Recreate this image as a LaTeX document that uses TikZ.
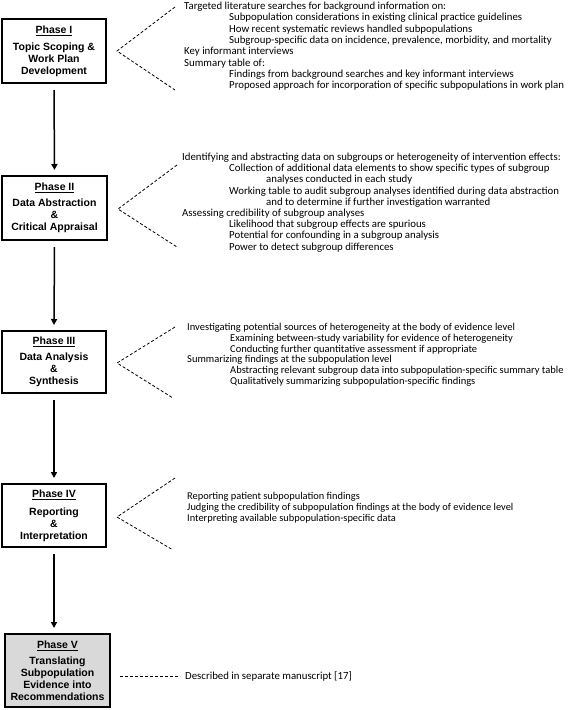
\documentclass[tikz,border=0pt]{standalone}
\usepackage{fontspec}
\setmainfont{Carlito}
\newfontfamily\boxfont{Liberation Sans}
\usetikzlibrary{arrows.meta}
\definecolor{boxgray}{HTML}{D9D9D9}
\begin{document}
\begin{tikzpicture}[x=1pt,y=-1pt,
  txt/.style={anchor=base west,inner sep=0pt,font=\fontsize{10.8}{11.3}\selectfont},
  txtm/.style={txt,font=\fontsize{10.5}{11.3}\selectfont},
  txts/.style={txt,font=\fontsize{10.4}{11.3}\selectfont},
  phase/.style={draw,line width=2pt,inner sep=0pt,align=center,font=\boxfont\bfseries\fontsize{10.5}{12}\selectfont},
  flow/.style={line width=1.5pt,-{Triangle[length=6pt,width=6pt]},shorten <=6pt,shorten >=5pt},
  brace/.style={dash pattern=on 3pt off 2pt,line width=0.8pt}]
\useasboundingbox (0,0) rectangle (568,710);

% phase boxes
\node[phase,minimum width=104pt,minimum height=64pt] (p1) at (54,51)
  {\underline{Phase I}\\[5pt]Topic Scoping \&\\Work Plan\\Development};
\node[phase,minimum width=105pt,minimum height=64pt] (p2) at (54.5,208)
  {\underline{Phase II}\\[4pt]Data Abstraction\\\&\\Critical Appraisal};
\node[phase,minimum width=104pt,minimum height=62pt] (p3) at (54,362)
  {\underline{Phase III}\\[4pt]Data Analysis\\\&\\Synthesis};
\node[phase,minimum width=104pt,minimum height=63pt] (p4) at (54,515.5)
  {\underline{Phase IV}\\[6pt]Reporting\\\&\\Interpretation};
\node[phase,fill=boxgray,minimum width=105pt,minimum height=73pt] (p5) at (57.5,670.5)
  {\underline{Phase V}\\[4pt]Translating\\Subpopulation\\Evidence into\\Recommendations};

% arrows
\draw[flow] (p1.south) -- (p2.north);
\draw[flow] (p2.south) -- (p3.north);
\draw[flow] (p3.south) -- (p4.north);
\draw[flow] (p4.south) -- (p4.south |- p5.north);

% dashed brackets
\coordinate (b1t) at (175,7);   \coordinate (b1a) at (117,51);  \coordinate (b1b) at (175,90);
\coordinate (b2t) at (177,165); \coordinate (b2a) at (118,209); \coordinate (b2b) at (177,247);
\coordinate (b3t) at (175,327); \coordinate (b3a) at (117,363); \coordinate (b3b) at (173,398);
\coordinate (b4t) at (175,478); \coordinate (b4a) at (117,517); \coordinate (b4b) at (173,550);
\coordinate (b5a) at (120,676); \coordinate (b5b) at (180,676);
\draw[brace] (b1t) -- (b1a) -- (b1b);
\draw[brace] (b2t) -- (b2a) -- (b2b);
\draw[brace] (b3t) -- (b3a) -- (b3b);
\draw[brace] (b4t) -- (b4a) -- (b4b);
\draw[brace] (b5a) -- (b5b);

% Phase I text
\node[txt] (t1a) at (184,9.5) {Targeted literature searches for background information on:};
\node[txt] (t1b) at (229,20.8) {Subpopulation considerations in existing clinical practice guidelines};
\node[txt] (t1c) at (229,32.1) {How recent systematic reviews handled subpopulations};
\node[txt] (t1d) at (229,43.4) {Subgroup-specific data on incidence, prevalence, morbidity, and mortality};
\node[txt] (t1e) at (184,54.7) {Key informant interviews};
\node[txt] (t1f) at (184,66) {Summary table of:};
\node[txt] (t1g) at (229,77.3) {Findings from background searches and key informant interviews};
\node[txt] (t1h) at (229,88.6) {Proposed approach for incorporation of specific subpopulations in work plan};

% Phase II text
\node[txt] (t2a) at (182,160.5) {Identifying and abstracting data on subgroups or heterogeneity of intervention effects:};
\node[txt] (t2b) at (229,171.7) {Collection of additional data elements to show specific types of subgroup};
\node[txt] (t2c) at (266,182.9) {analyses conducted in each study};
\node[txt] (t2d) at (229,194.1) {Working table to audit subgroup analyses identified during data abstraction};
\node[txt] (t2e) at (266,205.3) {and to determine if further investigation warranted};
\node[txt] (t2f) at (182,216.5) {Assessing credibility of subgroup analyses};
\node[txt] (t2g) at (229,227.7) {Likelihood that subgroup effects are spurious};
\node[txt] (t2h) at (229,238.9) {Potential for confounding in a subgroup analysis};
\node[txt] (t2i) at (229,250.1) {Power to detect subgroup differences};

% Phase III text
\node[txtm] (t3a) at (187,330.5) {Investigating potential sources of heterogeneity at the body of evidence level};
\node[txtm] (t3b) at (230,341.3) {Examining between-study variability for evidence of heterogeneity};
\node[txtm] (t3c) at (230,352) {Conducting further quantitative assessment if appropriate};
\node[txtm] (t3d) at (187,362.6) {Summarizing findings at the subpopulation level};
\node[txtm] (t3e) at (230,373.3) {Abstracting relevant subgroup data into subpopulation-specific summary table};
\node[txtm] (t3f) at (230,384) {Qualitatively summarizing subpopulation-specific findings};

% Phase IV text
\node[txts] (t4a) at (187,499.5) {Reporting patient subpopulation findings};
\node[txts] (t4b) at (187,510.5) {Judging the credibility of subpopulation findings at the body of evidence level};
\node[txts] (t4c) at (187,521.5) {Interpreting available subpopulation-specific data};

% Phase V text
\node[txt] (t5a) at (185,679.5) {Described in separate manuscript [17]};
\end{tikzpicture}
\end{document}
